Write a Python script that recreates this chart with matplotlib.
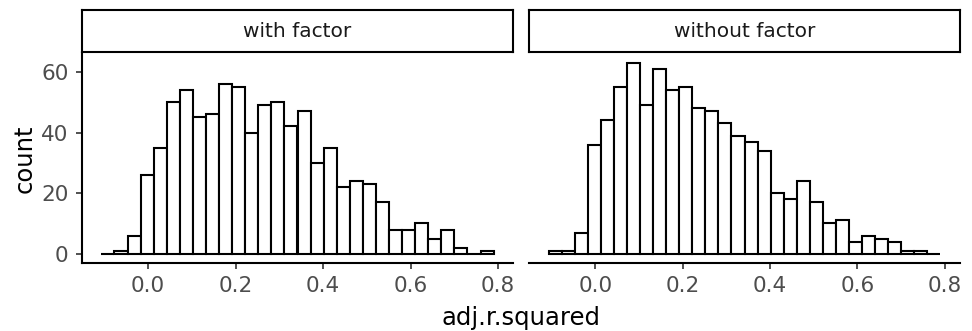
import numpy as np
import matplotlib.pyplot as plt

# shared histogram bins (30 bins)
bin_start = -0.107
bin_width = 0.0299
n_bins = 30

panels = ['with factor', 'without factor']

counts_with = [0, 1, 6, 26, 35, 50, 54, 45, 46, 56, 55, 40, 49, 50, 42,
               47, 30, 35, 22, 24, 23, 17, 8, 8, 10, 5, 8, 2, 0, 1]
counts_without = [1, 1, 7, 36, 44, 55, 63, 49, 61, 54, 55, 48, 47, 43, 39,
                  37, 34, 20, 18, 24, 17, 10, 11, 4, 6, 5, 4, 1, 1, 0]

x_ticks = [0.0, 0.2, 0.4, 0.6, 0.8]
y_ticks = [0, 20, 40, 60]

plt.rcParams['font.family'] = ['DejaVu Sans']

W, H = 972, 331
fig = plt.figure(figsize=(W / 100, H / 100), dpi=100)


def box(x0, y0, x1, y1):
    # pixel box (top-left origin) -> figure fraction rect
    return [x0 / W, (H - y1) / H, (x1 - x0) / W, (y1 - y0) / H]


edges = bin_start + bin_width * np.arange(n_bins + 1)
lw = 1.5
tick_col = '#4D4D4D'

panel_x = [(81.7, 513.3), (529.0, 960.0)]
for i, (name, counts) in enumerate(zip(panels, [counts_with, counts_without])):
    x0, x1 = panel_x[i]
    ax = fig.add_axes(box(x0, 53.3, x1, 263.3))
    ax.bar(edges[:-1], counts, width=bin_width, align='edge',
           facecolor='white', edgecolor='black', linewidth=lw)
    ax.set_xlim(-0.152, 0.835)
    ax.set_ylim(-3.15, 66.15)
    ax.set_xticks(x_ticks)
    ax.set_xticklabels([f'{v:.1f}' for v in x_ticks])
    for s in ['top', 'right']:
        ax.spines[s].set_visible(False)
    ax.spines['bottom'].set_linewidth(lw)
    ax.spines['left'].set_linewidth(lw)
    ax.tick_params(axis='both', length=4.5, width=lw * 0.8, color='#333333',
                   labelsize=15.5, labelcolor=tick_col, pad=5)
    if i == 0:
        ax.set_yticks(y_ticks)
        ax.set_ylabel('count', fontsize=17.5, labelpad=3)
    else:
        ax.spines['left'].set_visible(False)
        ax.set_yticks([])

    # facet strip
    sx = fig.add_axes(box(x0, 10.0, x1, 52.3))
    sx.set_xticks([])
    sx.set_yticks([])
    for s in sx.spines.values():
        s.set_linewidth(lw)
    sx.text(0.5, 0.5, name, ha='center', va='center', fontsize=14.5,
            color='#1A1A1A', transform=sx.transAxes)

fig.text(521 / W, (H - 318) / H, 'adj.r.squared', ha='center', va='center',
         fontsize=17.5)

fig.savefig('out.png', dpi=100)
